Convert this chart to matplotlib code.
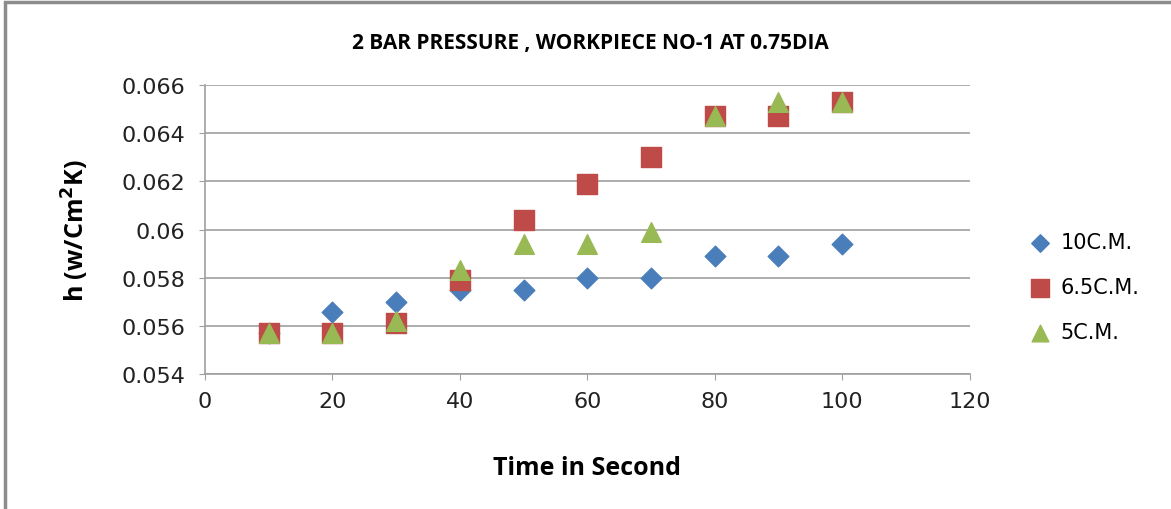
import numpy as np
import matplotlib.pyplot as plt
from matplotlib.patches import Rectangle

# Datos
tiempo = [10, 20, 30, 40, 50, 60, 70, 80, 90, 100]
h_10cm = [0.0557, 0.05658, 0.0570, 0.0575, 0.0575, 0.0580, 0.0580, 0.0589, 0.0589, 0.0594]
h_65cm = [0.0557, 0.0557, 0.0561, 0.0579, 0.0604, 0.0619, 0.0630, 0.0647, 0.0647, 0.0653]
h_5cm = [0.0557, 0.0557, 0.0562, 0.0583, 0.0594, 0.0594, 0.0599, 0.0647, 0.0653, 0.0653]

fig = plt.figure(figsize=(11.71, 5.10), dpi=100)
ax = fig.add_axes([0.175, 0.265, 0.653, 0.566])

ax.scatter(tiempo, h_10cm, marker='D', s=110, c='#4a7ebb', label='10C.M.', zorder=3)
ax.scatter(tiempo, h_65cm, marker='s', s=220, c='#be4b48', label='6.5C.M.', zorder=4)
ax.scatter(tiempo, h_5cm, marker='^', s=200, c='#98b954', label='5C.M.', zorder=5)

ax.set_xlim(0, 120)
ax.set_ylim(0.054, 0.066)
ax.set_xticks(np.arange(0, 121, 20))
ax.set_yticks(np.arange(0.054, 0.0661, 0.002))
ax.set_yticklabels(['0.054', '0.056', '0.058', '0.06', '0.062', '0.064', '0.066'])
ax.grid(axis='y', color='#a0a0a0', linewidth=1.2)
ax.set_axisbelow(True)
for lado in ['top', 'right']:
    ax.spines[lado].set_visible(False)
for lado in ['left', 'bottom']:
    ax.spines[lado].set_color('#a0a0a0')
    ax.spines[lado].set_linewidth(1.2)
ax.tick_params(axis='both', labelsize=16, colors='#a0a0a0', labelcolor='#222222', length=4)
ax.tick_params(axis='y', pad=10)
ax.tick_params(axis='x', pad=8)

ax.set_xlabel('Time in Second', fontsize=18, fontweight='bold', fontfamily='Open Sans', labelpad=32)
ax.set_ylabel('h (w/Cm$^{\\mathbf{2}}$K)', fontsize=18, fontweight='bold', fontfamily='Open Sans', labelpad=22)
fig.text(0.504, 0.915, '2 BAR PRESSURE , WORKPIECE NO-1 AT 0.75DIA', ha='center', va='center',
         fontsize=15, fontweight='bold', fontfamily='Open Sans')

ax.legend(loc='center left', bbox_to_anchor=(1.04, 0.30), frameon=False, fontsize=15,
          handletextpad=0.0, labelspacing=1.2, markerscale=0.85)

# Borde del area del grafico
fig.patches.append(Rectangle((0.004, -0.05), 1.1, 1.045, transform=fig.transFigure,
                             fill=False, edgecolor='#8c8c8c', linewidth=2.5))

plt.savefig('out.png', dpi=100)
